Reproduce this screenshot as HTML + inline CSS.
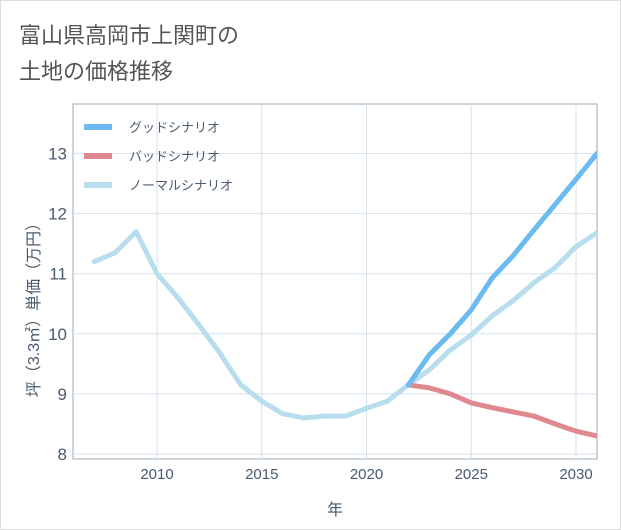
<!DOCTYPE html>
<html><head><meta charset="utf-8"><style>
body{margin:0;background:#fff;}
#wrap{width:619px;height:528px;border:1px solid #ddd;position:relative;background:#fff;font-family:"Liberation Sans","Noto Sans CJK JP",sans-serif;}
</style></head><body>
<div id="wrap">
<svg id="chart" width="619" height="528" style="position:absolute;left:0;top:0"></svg>
</div>
<script>
const years=[2007,2008,2009,2010,2011,2012,2013,2014,2015,2016,2017,2018,2019,2020,2021,2022,2023,2024,2025,2026,2027,2028,2029,2030,2031];
const normal=[11.2,11.35,11.7,11.0,10.6,10.15,9.68,9.15,8.88,8.67,8.6,8.63,8.63,8.76,8.88,9.15,9.4,9.73,9.98,10.3,10.55,10.85,11.1,11.45,11.68];
const goodYears=[2022,2023,2024,2025,2026,2027,2028,2029,2030,2031];
const good=[9.15,9.65,10.0,10.4,10.93,11.3,11.73,12.15,12.57,13.0];
const bad=[9.15,9.1,9.0,8.85,8.77,8.7,8.63,8.5,8.38,8.3];
const xTicks=[2010,2015,2020,2025,2030];
const yTicks=[8,9,10,11,12,13];
const NS="http://www.w3.org/2000/svg";
const svg=document.getElementById('chart');
const L=72,R=596,T=103,B=458;
const x=v=>156+(v-2010)*20.95;
const y=v=>453-(v-8)*60.1;
function el(t,a){const e=document.createElementNS(NS,t);for(const k in a)e.setAttribute(k,a[k]);svg.appendChild(e);return e;}
function txt(s,a){const e=el('text',a);e.textContent=s;return e;}
let e;
e=txt('富山県高岡市上関町の',{x:18,y:42,'font-size':22,fill:'#555'});

e=txt('土地の価格推移',{x:18,y:78,'font-size':22,fill:'#555'});

e=el('rect',{x:L,y:T,width:R-L,height:B-T,fill:'none',stroke:'#9aa8b8'});

xTicks.forEach(t=>{
 e=el('line',{x1:x(t),x2:x(t),y1:T,y2:B,stroke:'#d6e2ec'});
 
 e=txt(String(t),{x:x(t),y:478,'font-size':15,fill:'#4a5a70','text-anchor':'middle'});
 
});
yTicks.forEach(t=>{
 e=el('line',{x1:L,x2:R,y1:y(t),y2:y(t),stroke:'#d6e2ec'});
 
 e=txt(String(t),{x:66,y:y(t)+6,'font-size':17,fill:'#4a5a70','text-anchor':'end'});
 
});
e=txt('年',{x:334,y:514,'font-size':16,fill:'#4a5a70','text-anchor':'middle'});

e=txt('坪（3.3㎡）単価（万円）',{x:0,y:0,'font-size':16,fill:'#4a5a70','text-anchor':'middle',transform:'translate(38,305) rotate(-90)'});

function line(xs,vs,c,n){
 const d=vs.map((v,i)=>(i?'L':'M')+x(xs[i]).toFixed(1)+','+y(v).toFixed(1)).join('');
 const p=el('path',{d:d,fill:'none',stroke:c,'stroke-width':5,'stroke-linejoin':'round','stroke-linecap':'round','clip-path':'url(#clip)'});
 
}
const cp=el('clipPath',{id:'clip'});const cr=document.createElementNS(NS,'rect');
cr.setAttribute('x',L);cr.setAttribute('y',T);cr.setAttribute('width',R-L);cr.setAttribute('height',B-T);cp.appendChild(cr);
line(years,normal,'#b8deed','normal-scenario-line');
line(goodYears,bad,'#e08890','bad-scenario-line');
line(goodYears,good,'#6bbaf0','good-scenario-line');
[['グッドシナリオ','#6bbaf0','legend-good'],['バッドシナリオ','#e08890','legend-bad'],['ノーマルシナリオ','#b8deed','legend-normal']].forEach((l,i)=>{
 const yy=126+i*29;
 e=el('line',{x1:83,x2:111,y1:yy,y2:yy,stroke:l[1],'stroke-width':6});
 
 e=txt(l[0],{x:128,y:yy+5,'font-size':13,fill:'#4a5a70'});
 
});
</script>
</body></html>
